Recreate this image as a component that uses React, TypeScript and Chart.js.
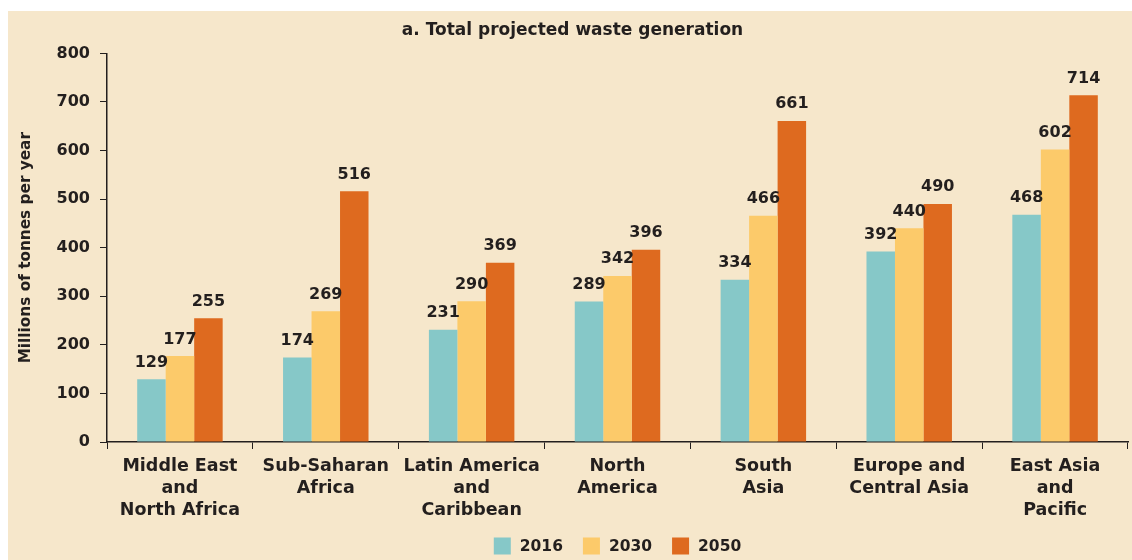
import React, { useEffect, useRef } from "react";
import { Chart, registerables } from "chart.js";

Chart.register(...registerables);

const categories: string[][] = [
  ["Middle East", "and", "North Africa"],
  ["Sub-Saharan", "Africa"],
  ["Latin America", "and", "Caribbean"],
  ["North", "America"],
  ["South", "Asia"],
  ["Europe and", "Central Asia"],
  ["East Asia", "and", "Pacific"],
];
const values2016 = [129, 174, 231, 289, 334, 392, 468];
const values2030 = [177, 269, 290, 342, 466, 440, 602];
const values2050 = [255, 516, 369, 396, 661, 490, 714];
const seriesLabels = ["2016", "2030", "2050"];
const seriesColors = ["#86C8C8", "#FCCA6A", "#DE6A1F"];
const yTicks = [0, 100, 200, 300, 400, 500, 600, 700, 800];

const BG = "#F6E7CB";
const TEXT = "#231F1E";
const FONT = "'DejaVu Sans', sans-serif";

const valueLabels = {
  id: "valueLabels",
  afterDatasetsDraw(chart: any) {
    const ctx = chart.ctx;
    ctx.save();
    ctx.font = `bold 16px ${FONT}`;
    ctx.fillStyle = TEXT;
    ctx.textAlign = "center";
    ctx.textBaseline = "alphabetic";
    chart.data.datasets.forEach((ds: any, di: number) => {
      const meta = chart.getDatasetMeta(di);
      meta.data.forEach((el: any, i: number) => {
        ctx.fillText(String(ds.data[i]), el.x, el.y - 12.5);
      });
    });
    ctx.restore();
  },
};

const customLegend = {
  id: "customLegend",
  afterDraw(chart: any) {
    const ctx = chart.ctx;
    const box = 17;
    const gap = 9;
    const itemGap = 20;
    ctx.save();
    ctx.font = `bold 15.5px ${FONT}`;
    const items = chart.data.datasets.map((ds: any) => ({
      label: ds.label,
      color: ds.backgroundColor,
      w: ctx.measureText(ds.label).width,
    }));
    const total =
      items.reduce((s: number, it: any) => s + box + gap + it.w, 0) + itemGap * (items.length - 1);
    const ca = chart.chartArea;
    let x = (ca.left + ca.right) / 2 - total / 2;
    const cy = chart.height - 14;
    ctx.textBaseline = "middle";
    ctx.textAlign = "left";
    items.forEach((it: any) => {
      ctx.fillStyle = it.color;
      ctx.fillRect(x, cy - box / 2, box, box);
      ctx.fillStyle = TEXT;
      ctx.fillText(it.label, x + box + gap, cy + 1);
      x += box + gap + it.w + itemGap;
    });
    ctx.restore();
  },
};

const bgPlugin = {
  id: "bgFill",
  beforeDraw(chart: any) {
    const ctx = chart.ctx;
    ctx.save();
    ctx.fillStyle = BG;
    ctx.fillRect(0, 0, chart.width, chart.height);
    ctx.restore();
  },
};

export default function App() {
  const ref = useRef<HTMLCanvasElement | null>(null);
  useEffect(() => {
    if (!ref.current) return;
    const chart = new Chart(ref.current, {
      type: "bar",
      data: {
        labels: categories as any,
        datasets: seriesLabels.map((label, i) => ({
          label,
          data: [values2016, values2030, values2050][i],
          backgroundColor: seriesColors[i],
        })),
      },
      options: {
        animation: false,
        responsive: false,
        maintainAspectRatio: false,
        datasets: { bar: { categoryPercentage: 0.586, barPercentage: 1.0 } },
        layout: { padding: { left: 9, right: 4, top: 0, bottom: 33 } },
        plugins: {
          title: {
            display: true,
            text: "a. Total projected waste generation",
            color: TEXT,
            font: { family: FONT, size: 17, weight: "bold" as any },
            padding: { top: 9, bottom: 13 },
          },
          legend: { display: false },
          tooltip: { enabled: false },
        },
        scales: {
          x: {
            offset: true,
            grid: {
              display: true,
              drawOnChartArea: false,
              drawTicks: true,
              tickLength: 7,
              color: TEXT,
              tickColor: TEXT,
              offset: true,
            },
            border: { display: true, color: TEXT, width: 1.5 },
            ticks: {
              color: TEXT,
              font: { family: FONT, size: 17.5, weight: "bold" as any, lineHeight: 1.257 },
              padding: 6,
              maxRotation: 0,
              autoSkip: false,
            },
          },
          y: {
            min: 0,
            max: 800,
            afterBuildTicks(scale: any) {
              scale.ticks = yTicks.map((v) => ({ value: v }));
            },
            afterFit(scale: any) {
              scale.width = 90;
            },
            grid: {
              display: true,
              drawOnChartArea: false,
              drawTicks: true,
              tickLength: 7,
              color: TEXT,
              tickColor: TEXT,
            },
            border: { display: true, color: TEXT, width: 1.5 },
            ticks: {
              color: TEXT,
              font: { family: FONT, size: 16, weight: "bold" as any },
              padding: 10,
            },
            title: {
              display: true,
              text: "Millions of tonnes per year",
              color: TEXT,
              font: { family: FONT, size: 15.3, weight: "bold" as any },
              padding: { top: 0, bottom: 0 },
            },
          },
        },
      },
      plugins: [bgPlugin, valueLabels, customLegend],
    });
    return () => chart.destroy();
  }, []);
  return (
    <div style={{ position: "fixed", left: 8, top: 11, width: 1124, height: 549, background: BG }}>
      <canvas ref={ref} width={1124} height={549} style={{ display: "block" }} />
    </div>
  );
}
